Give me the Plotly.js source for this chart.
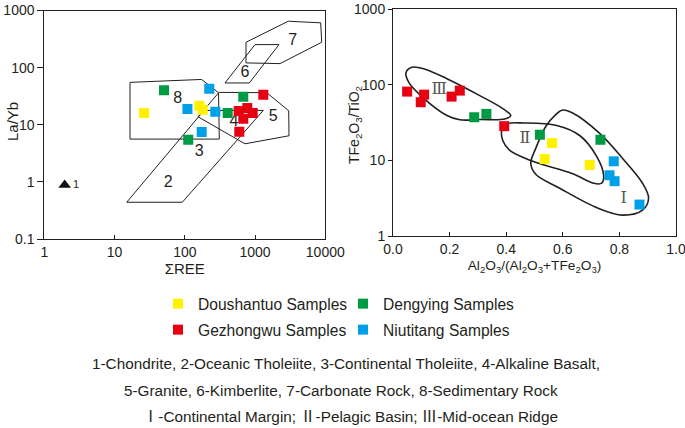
<!DOCTYPE html>
<html><head><meta charset="utf-8">
<script src="https://cdn.plot.ly/plotly-3.0.1.min.js"></script>
<style>html,body{margin:0;padding:0;background:#fff}#chart{width:685px;height:428px}</style>
</head><body><div id="chart"></div>
<script>
// ---------- Left diagram: La/Yb vs ΣREE ----------
const doushantuoREE = [26.3, 161, 180];
const doushantuoLaYb = [16.0, 21.5, 18.3];
const dengyingREE = [50.6, 112, 408, 680];
const dengyingLaYb = [40, 5.46, 16.0, 31];
const gezhongwuREE = [1310, 585, 776, 926, 680, 597];
const gezhongwuLaYb = [33.6, 17.4, 19.6, 16.0, 12.7, 7.54];
const niutitangREE = [223, 109, 272, 174];
const niutitangLaYb = [42.8, 18.8, 16.9, 7.44];
const chondriteREE = [1.95];
const chondriteLaYb = [0.88];

// field boundaries (left)
const basaltFieldREE = [14.9, 92.1, 1310, 187, 14.9];
const basaltFieldLaYb = [0.44, 0.44, 17.8, 17.8, 0.44];
const graniteFieldREE = [307, 1466, 3013, 3043, 719, 154, 307];
const graniteFieldLaYb = [36.9, 36.4, 17.6, 6.41, 4.64, 13.8, 36.9];
const sedimentFieldREE = [16.6, 173, 302, 310, 16.6, 16.6];
const sedimentFieldLaYb = [55.2, 62.1, 36.4, 5.61, 5.61, 55.2];
const kimberliteFieldREE = [373, 828, 2193, 998, 373];
const kimberliteFieldLaYb = [53.9, 53.9, 253, 253, 53.9];
const carbonateFieldREE = [743, 2973, 8600, 8890, 2265, 743, 743];
const carbonateFieldLaYb = [278, 649, 608, 278, 117.5, 121, 278];
const fieldLabels = ['8', '7', '6', '5', '4', '3', '2', '1'];
const fieldLabelREE = [79.2, 3435, 719, 1820, 501, 161, 58.2, 2.83];
const fieldLabelLaYb = [28.6, 289, 80.7, 13.6, 11.1, 3.4, 0.97, 0.875];

// ---------- Right diagram: TFe2O3/TiO2 vs Al2O3/(Al2O3+TFe2O3) ----------
const doushantuoAl = [0.562, 0.536, 0.695];
const doushantuoFeTi = [16.9, 10.4, 8.7];
const dengyingAl = [0.287, 0.33, 0.519, 0.733];
const dengyingFeTi = [37.1, 41.1, 21.8, 18.7];
const gezhongwuAl = [0.05, 0.11, 0.098, 0.207, 0.236, 0.393];
const gezhongwuFeTi = [81, 73.8, 58.6, 69.5, 83.4, 28.3];
const niutitangAl = [0.78, 0.765, 0.783, 0.871];
const niutitangFeTi = [9.7, 6.35, 5.3, 2.6];

// field boundaries (right)
const ridgeAl = [0.0459, 0.067, 0.1129, 0.1905, 0.3069, 0.388, 0.4162, 0.395, 0.307, 0.2363, 0.1905, 0.1058, 0.0564, 0.0459];
const ridgeFeTi = [143.8, 169.9, 159.9, 119.9, 71.7, 48.3, 39.1, 35.2, 34.6, 34.3, 39.1, 67.4, 106.3, 143.8];
const basinAl = [0.3845, 0.4021, 0.4656, 0.5785, 0.6596, 0.7196, 0.7443, 0.7372, 0.709, 0.6349, 0.4938, 0.4127, 0.388, 0.3845];
const basinFeTi = [24.8, 30.2, 31.1, 28.9, 21.3, 11.3, 6.35, 4.98, 4.98, 6.64, 9.7, 13.5, 18.3, 24.8];
const marginAl = [0.575, 0.5996, 0.6349, 0.7302, 0.8113, 0.8818, 0.903, 0.8818, 0.8113, 0.7231, 0.5891, 0.5044, 0.4868, 0.5044, 0.5397, 0.575];
const marginFeTi = [40.3, 46.2, 42.2, 22.7, 10.6, 4.98, 3.16, 2.2, 1.89, 2.34, 4.28, 6.54, 9.14, 14.4, 28.0, 40.3];
const regionLabels = ['Ⅲ', 'Ⅱ', 'Ⅰ'];
const regionLabelAl = [0.163, 0.466, 0.815];
const regionLabelFeTi = [85.2, 19.3, 3.07];

// tick labels
const reeTicks = [1, 10, 100, 1000, 10000];
const reeTickText = ['1', '10', '100', '1000', '10000'];
const laybTicks = [0.1, 1, 10, 100, 1000];
const laybTickText = ['0.1', '1', '10', '100', '1000'];
const alTicks = [0, 0.2, 0.4, 0.6, 0.8, 1.0];
const alTickText = ['0.0', '0.2', '0.4', '0.6', '0.8', '1.0'];
const feTiTicks = [1, 10, 100, 1000];
const feTiTickText = ['1', '10', '100', '1000'];

const seriesNames = ['Doushantuo Samples', 'Dengying Samples', 'Gezhongwu Samples', 'Niutitang Samples'];
const seriesColors = ['#fff100', '#009944', '#e60012', '#00a0e9'];

const FONT = 'Arial, "Liberation Sans", sans-serif';
const INK = '#231f20';
const traces = [];

function boundary(x, y, xa, ya, w, shape) {
  traces.push({x: x, y: y, xaxis: xa, yaxis: ya, mode: 'lines', showlegend: false, hoverinfo: 'skip',
    line: {color: INK, width: w, shape: shape || 'linear', smoothing: 1}});
}
boundary(basaltFieldREE, basaltFieldLaYb, 'x', 'y', 1);
boundary(graniteFieldREE, graniteFieldLaYb, 'x', 'y', 1);
boundary(sedimentFieldREE, sedimentFieldLaYb, 'x', 'y', 1);
boundary(kimberliteFieldREE, kimberliteFieldLaYb, 'x', 'y', 1);
boundary(carbonateFieldREE, carbonateFieldLaYb, 'x', 'y', 1);
boundary(ridgeAl, ridgeFeTi, 'x2', 'y2', 1.6, 'spline');
boundary(basinAl, basinFeTi, 'x2', 'y2', 1.6, 'spline');
boundary(marginAl, marginFeTi, 'x2', 'y2', 1.6, 'spline');

traces.push({x: fieldLabelREE, y: fieldLabelLaYb, text: fieldLabels, mode: 'text', xaxis: 'x', yaxis: 'y',
  showlegend: false, hoverinfo: 'skip', textfont: {family: FONT, size: [16,16,16,16,16,16,16,11], color: INK}});
traces.push({x: chondriteREE, y: chondriteLaYb, mode: 'markers', xaxis: 'x', yaxis: 'y', showlegend: false,
  marker: {symbol: 'triangle-up', size: 11, color: '#111'}});
traces.push({x: regionLabelAl, y: regionLabelFeTi, text: regionLabels, mode: 'text', xaxis: 'x2', yaxis: 'y2',
  showlegend: false, hoverinfo: 'skip', textfont: {family: '"DejaVu Serif", "Noto Sans CJK SC", serif', size: 16, color: '#555'}});

const leftX = [doushantuoREE, dengyingREE, gezhongwuREE, niutitangREE];
const leftY = [doushantuoLaYb, dengyingLaYb, gezhongwuLaYb, niutitangLaYb];
const rightX = [doushantuoAl, dengyingAl, gezhongwuAl, niutitangAl];
const rightY = [doushantuoFeTi, dengyingFeTi, gezhongwuFeTi, niutitangFeTi];
const legendOf = ['legend', 'legend', 'legend2', 'legend2'];
for (let i = 0; i < 4; i++) {
  traces.push({x: leftX[i], y: leftY[i], xaxis: 'x', yaxis: 'y', mode: 'markers', name: seriesNames[i],
    legendgroup: 'g' + i, showlegend: true, legend: legendOf[i],
    marker: {symbol: 'square', size: 10, color: seriesColors[i]}});
  traces.push({x: rightX[i], y: rightY[i], xaxis: 'x2', yaxis: 'y2', mode: 'markers', name: seriesNames[i],
    legendgroup: 'g' + i, showlegend: false,
    marker: {symbol: 'square', size: 10, color: seriesColors[i]}});
}

const W = 685, H = 428;
const axCommon = {showline: true, mirror: true, linecolor: INK, linewidth: 1, showgrid: false, zeroline: false,
  tickcolor: INK, tickfont: {family: FONT, size: 14, color: INK}, tickmode: 'array', ticklabeloverflow: 'allow'};
const legCommon = {orientation: 'h', xanchor: 'left', yanchor: 'middle', bgcolor: 'rgba(0,0,0,0)',
  font: {family: FONT, size: 15.6, color: INK}, itemwidth: 30, entrywidth: 140, entrywidthmode: 'pixels',
  itemclick: false, itemdoubleclick: false};
function note(text, px, py, size, angle, family) {
  return {text: text, x: px / W, y: 1 - py / H, xref: 'paper', yref: 'paper', xanchor: 'center', yanchor: 'middle',
    textangle: angle || 0, showarrow: false, font: {family: family || FONT, size: size, color: INK}};
}

const layout = {
  width: W, height: H, margin: {l: 0, r: 0, t: 0, b: 0}, paper_bgcolor: '#fff', plot_bgcolor: '#fff',
  font: {family: FONT, color: INK},
  xaxis: Object.assign({}, axCommon, {type: 'log', range: [0, 4], domain: [44.3 / W, 325.3 / W], anchor: 'y',
    tickvals: reeTicks, ticktext: reeTickText, ticks: 'inside', ticklen: 4, ticklabelstandoff: 0,
    title: {text: 'ΣREE', font: {family: FONT, size: 15, color: INK}, standoff: 2}}),
  yaxis: Object.assign({}, axCommon, {type: 'log', range: [-1, 3], domain: [1 - 239 / H, 1 - 10.5 / H], anchor: 'x',
    tickvals: laybTicks, ticktext: laybTickText, ticks: 'outside', ticklen: 6}),
  xaxis2: Object.assign({}, axCommon, {range: [0, 1], domain: [393 / W, 676 / W], anchor: 'y2',
    tickvals: alTicks, ticktext: alTickText, ticks: 'inside', ticklen: 4,
    title: {text: 'Al<sub>2</sub>O<sub>3</sub>/(Al<sub>2</sub>O<sub>3</sub>+TFe<sub>2</sub>O<sub>3</sub>)', font: {family: FONT, size: 13.7, color: INK}, standoff: 4}}),
  yaxis2: Object.assign({}, axCommon, {type: 'log', range: [0, 3], domain: [1 - 236 / H, 1 - 9 / H], anchor: 'x2',
    tickvals: feTiTicks, ticktext: feTiTickText, ticks: 'outside', ticklen: 4}),
  legend: Object.assign({}, legCommon, {x: 158 / W, y: 1 - 304 / H}),
  legend2: Object.assign({}, legCommon, {x: 158 / W, y: 1 - 330 / H}),
  annotations: [
    note('La/Yb', 13, 122, 15, -90),
    note('TFe<sub>2</sub>O<sub>3</sub>/TiO<sub>2</sub>', 355, 125, 14, -90),
    note('1-Chondrite, 2-Oceanic Tholeiite, 3-Continental Tholeiite, 4-Alkaline Basalt,', 346, 363, 15.3),
    note('5-Granite, 6-Kimberlite, 7-Carbonate Rock, 8-Sedimentary Rock', 341, 390, 15.3),
    note('Ⅰ-Continental Margin; Ⅱ-Pelagic Basin; Ⅲ-Mid-ocean Ridge', 350, 416, 15.3, 0, FONT + ', "Noto Sans CJK SC"')
  ]
};

Plotly.newPlot('chart', traces, layout, {staticPlot: true, displayModeBar: false});
</script></body></html>
